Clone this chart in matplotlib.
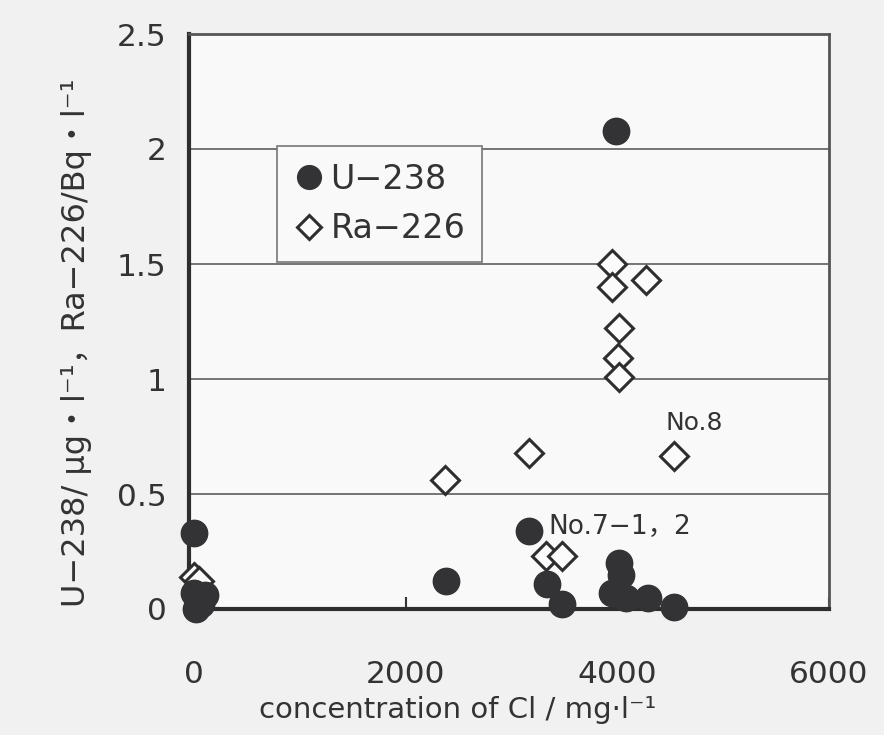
import numpy as np
import matplotlib
matplotlib.use("Agg")
from matplotlib import pyplot as plt

# U-238 (ug/l) vs Cl concentration (mg/l)
u238_cl = [0, 0, 40, 15, 70, 100, 2380, 3170, 3335, 3480, 3990, 4020, 4035, 3950, 4085, 4290, 4535]
u238_val = [0.33, 0.07, 0.04, 0.0, 0.02, 0.06, 0.12, 0.34, 0.11, 0.02, 2.08, 0.20, 0.15, 0.07, 0.05, 0.05, 0.01]

# Ra-226 (Bq/l) vs Cl concentration (mg/l)
ra226_cl = [0, 50, 2370, 3165, 3325, 3480, 4535, 3950, 3950, 4270, 4020, 4010, 4020]
ra226_val = [0.14, 0.12, 0.56, 0.68, 0.23, 0.23, 0.665, 1.50, 1.40, 1.43, 1.22, 1.09, 1.01]

xticks = [0, 2000, 4000, 6000]
yticks = [0, 0.5, 1, 1.5, 2, 2.5]
ytick_labels = ["0", "0.5", "1", "1.5", "2", "2.5"]

fam = ["DejaVu Sans", "Noto Sans CJK JP"]
plt.rcParams["font.family"] = fam
txt = "#333333"

fig = plt.figure(figsize=(8.84, 7.35), dpi=100, facecolor="#f2f1f1")
ax = fig.add_axes([189 / 884, 1 - 609 / 735, 640 / 884, 575 / 735])
ax.set_facecolor("#f9f9f9")

ax.set_xlim(-47, 6000)
ax.set_ylim(0, 2.5)

for yv in [0.5, 1, 1.5, 2]:
    ax.axhline(yv, color="#6a6a6a", lw=1.3, zorder=1)

ax.plot(ra226_cl, ra226_val, linestyle="none", marker="D", markersize=14,
        markerfacecolor="#fbfbfb", markeredgecolor="#2e2e2e", markeredgewidth=2.2,
        clip_on=False, zorder=3, label="Ra\u2212226")
ax.plot(u238_cl, u238_val, linestyle="none", marker="o", markersize=19,
        markerfacecolor="#333336", markeredgecolor="#333336",
        clip_on=False, zorder=4, label="U\u2212238")

ax.text(3350, 0.357, "No.7\u22121\uff0c2", fontsize=19, color=txt, va="center", ha="left")
ax.text(4455, 0.81, "No.8", fontsize=18, color=txt, va="center", ha="left")

ax.set_xticks(xticks)
ax.set_xticklabels([str(v) for v in xticks])
ax.set_yticks(yticks)
ax.set_yticklabels(ytick_labels)
ax.tick_params(axis="x", direction="in", length=9, width=1.5, pad=37,
               labelsize=22.5, colors=txt)
ax.tick_params(axis="y", length=0, pad=16, labelsize=22.5, colors=txt)

for side in ["left", "bottom"]:
    ax.spines[side].set_linewidth(3)
    ax.spines[side].set_color("#2e2e2e")
for side in ["top", "right"]:
    ax.spines[side].set_linewidth(2)
    ax.spines[side].set_color("#555555")

ax.set_xlabel("concentration of Cl / mg\u00b7l\u207b\u00b9", fontsize=21, color=txt)
ax.xaxis.set_label_coords(0.42, -0.152)
ax.set_ylabel("U\u2212238/ \u03bcg\u30fbl\u207b\u00b9\uff0cRa\u2212226/Bq\u30fbl\u207b\u00b9",
              fontsize=23, color=txt)
ax.yaxis.set_label_coords(-0.152, 0.463)

handles, labels = ax.get_legend_handles_labels()
leg = ax.legend(handles[::-1], labels[::-1], loc="upper left",
                bbox_to_anchor=(0.1375, 0.805), borderaxespad=0, fontsize=24,
                frameon=True, fancybox=False, edgecolor="#777777", framealpha=1,
                handletextpad=0.2, handlelength=0.9, borderpad=0.5,
                labelspacing=0.5, markerscale=0.9)
leg.get_frame().set_facecolor("#f9f9f9")
leg.get_frame().set_linewidth(1.2)
for t in leg.get_texts():
    t.set_color(txt)

fig.savefig("out.png", dpi=100, facecolor=fig.get_facecolor())
